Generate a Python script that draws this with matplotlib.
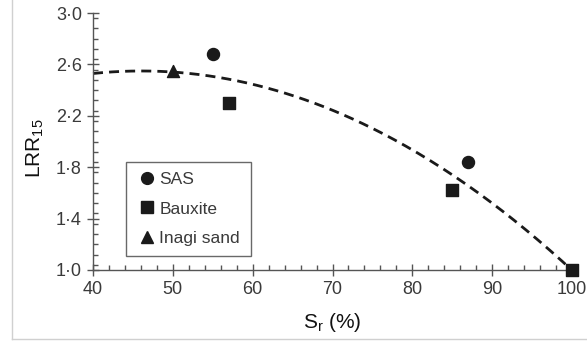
import numpy as np
import matplotlib
matplotlib.use("Agg")
import matplotlib.pyplot as plt
from matplotlib.ticker import MultipleLocator, FuncFormatter
from matplotlib.lines import Line2D

# Measured data
sas_sr = [55, 87]
sas_lrr = [2.68, 1.84]
bauxite_sr = [57, 85, 100]
bauxite_lrr = [2.30, 1.62, 1.00]
inagi_sr = [50]
inagi_lrr = [2.55]

# Quadratic trend (coefficients of c2*x^2 + c1*x + c0)
trend_coeffs = [-0.000533, 0.0491, 1.418]
trend_range = [40, 100]

x_ticks = [40, 50, 60, 70, 80, 90, 100]
y_ticks = [1.0, 1.4, 1.8, 2.2, 2.6, 3.0]

plt.rcParams["font.family"] = ["Liberation Sans", "DejaVu Sans"]
plt.rcParams["mathtext.fontset"] = "custom"
plt.rcParams["mathtext.rm"] = "Liberation Sans"

fig = plt.figure(figsize=(5.87, 3.41), dpi=100)
ax = fig.add_axes([93 / 587, 1 - 270 / 341, (572 - 93) / 587, (270 - 13) / 341])

ink = "#1a1a1a"
xs = np.linspace(trend_range[0], trend_range[1], 200)
ax.plot(xs, np.polyval(trend_coeffs, xs), ls=(0, (3.6, 2.2)), color=ink,
        lw=2.0, clip_on=False, zorder=2)

ax.scatter(sas_sr, sas_lrr, marker="o", s=75, color=ink, clip_on=False, zorder=3)
ax.scatter(bauxite_sr, bauxite_lrr, marker="s", s=80, color=ink, clip_on=False, zorder=3)
ax.scatter(inagi_sr, inagi_lrr, marker="^", s=75, color=ink, clip_on=False, zorder=3)

ax.set_xlim(40, 100)
ax.set_ylim(1.0, 3.0)
ax.set_xticks(x_ticks)
ax.set_yticks(y_ticks)
ax.xaxis.set_minor_locator(MultipleLocator(2))
ax.yaxis.set_minor_locator(MultipleLocator(0.08))
ax.yaxis.set_major_formatter(FuncFormatter(lambda v, p: f"{v:.1f}".replace(".", "\u00b7")))

for side in ("top", "right"):
    ax.spines[side].set_visible(False)
for side in ("left", "bottom"):
    ax.spines[side].set_color("#555555")
    ax.spines[side].set_linewidth(1.0)

ax.tick_params(which="major", direction="inout", length=8, width=1.0, color="#555555",
               labelsize=13, labelcolor="#3a3a3a", pad=4)
ax.tick_params(which="minor", direction="in", length=3.5, width=1.0, color="#555555")

ax.set_xlabel("S$_\\mathrm{r}$ (%)", fontsize=15, color="#111111", labelpad=9)
ax.set_ylabel("LRR$_\\mathrm{15}$", fontsize=15, color="#111111")
ax.yaxis.set_label_coords(-0.098, 0.475)

handles = [
    Line2D([], [], marker="o", ls="none", color=ink, markersize=8.5, label="SAS"),
    Line2D([], [], marker="s", ls="none", color=ink, markersize=8.5, label="Bauxite"),
    Line2D([], [], marker="^", ls="none", color=ink, markersize=8.5, label="Inagi sand"),
]
leg = ax.legend(handles=handles, loc="lower left",
                bbox_to_anchor=((126.5 - 93) / 479, (270 - 256) / 257),
                frameon=True, fancybox=False, edgecolor="#444444", fontsize=12.5,
                handlelength=1.2, handletextpad=0.1, labelspacing=0.8,
                borderpad=0.6, borderaxespad=0)
leg.get_frame().set_linewidth(1.0)
for t in leg.get_texts():
    t.set_color("#3a3a3a")

# light frame lines at the left and bottom edges of the figure
fig.add_artist(Line2D([12 / 587, 12 / 587], [1 - 339 / 341, 1], color="#d0d0d0", lw=1.0))
fig.add_artist(Line2D([12 / 587, 1], [1 - 339 / 341, 1 - 339 / 341], color="#d0d0d0", lw=1.0))

fig.savefig("out.png", dpi=100)
